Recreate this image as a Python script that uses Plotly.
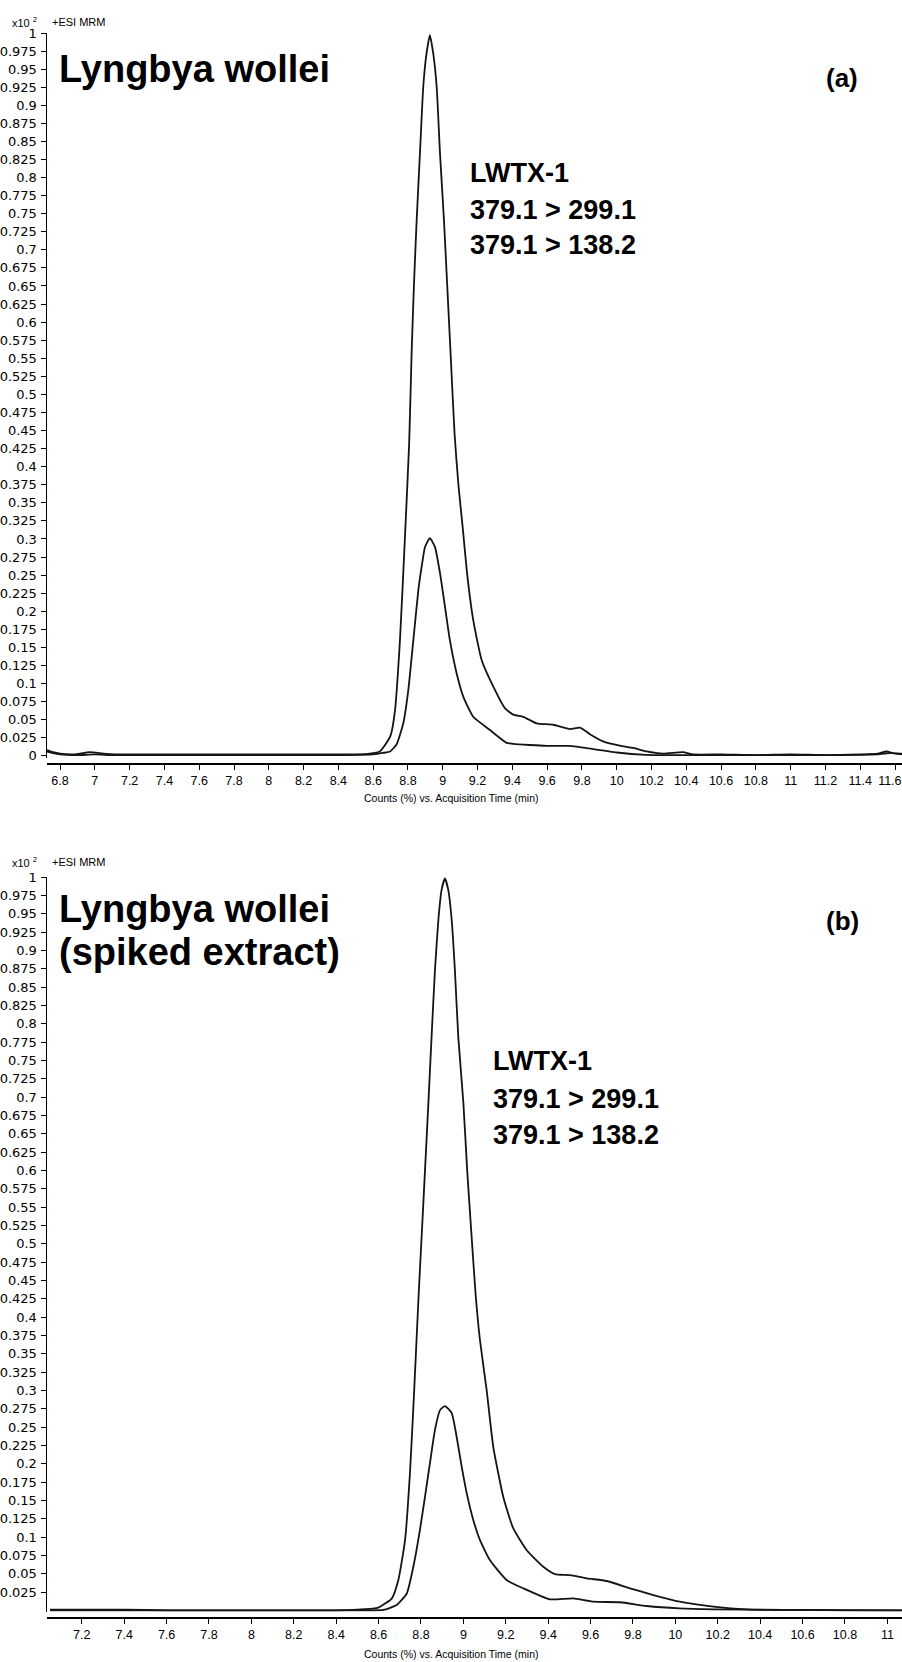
import plotly.graph_objects as go

# ---------------- data ----------------
# Panel (a): Lyngbya wollei
a_t1 = [6.725, 6.76, 6.8, 6.88, 6.97, 7.05, 7.12, 7.3, 7.47, 7.65, 7.8, 8.0, 8.2, 8.4, 8.5,
        8.58, 8.638, 8.677, 8.70, 8.725, 8.754, 8.782, 8.807, 8.821, 8.834, 8.85, 8.869,
        8.888, 8.907, 8.926, 8.945, 8.965, 8.984, 9.007, 9.026, 9.045, 9.068, 9.09, 9.115,
        9.14, 9.175, 9.223, 9.29, 9.357, 9.405, 9.463, 9.54, 9.635, 9.731, 9.789, 9.846, 9.922,
        10.018, 10.095, 10.172, 10.267, 10.38, 10.44, 10.6, 10.8, 11.0, 11.2, 11.4, 11.5,
        11.55, 11.6, 11.64]
a_v1 = [0.008, 0.005, 0.003, 0.002, 0.005, 0.003, 0.002, 0.002, 0.002, 0.002, 0.002, 0.002,
        0.002, 0.002, 0.002, 0.003, 0.006, 0.018, 0.028, 0.062, 0.160, 0.299, 0.433, 0.557,
        0.649, 0.741, 0.834, 0.926, 0.972, 0.997, 0.972, 0.926, 0.834, 0.741, 0.649, 0.557,
        0.445, 0.375, 0.315, 0.252, 0.188, 0.133, 0.096, 0.066, 0.057, 0.054, 0.045, 0.043, 0.037,
        0.039, 0.030, 0.020, 0.014, 0.011, 0.006, 0.003, 0.005, 0.002, 0.002, 0.001, 0.002,
        0.001, 0.002, 0.003, 0.006, 0.003, 0.003]

a_t2 = [6.725, 6.8, 6.9, 7.0, 7.1, 7.3, 7.6, 8.0, 8.4, 8.6, 8.656, 8.697, 8.735, 8.773, 8.802,
        8.831, 8.86, 8.879, 8.898, 8.926, 8.955, 8.984, 9.013, 9.041, 9.08, 9.118, 9.175,
        9.27, 9.367, 9.405, 9.5, 9.597, 9.731, 9.827, 10.0, 10.17, 10.4, 10.8, 11.2, 11.5,
        11.58, 11.64]
a_v2 = [0.006, 0.002, 0.001, 0.002, 0.001, 0.001, 0.001, 0.001, 0.001, 0.002, 0.004, 0.006,
        0.016, 0.045, 0.091, 0.160, 0.230, 0.262, 0.289, 0.301, 0.289, 0.253, 0.206, 0.160,
        0.114, 0.082, 0.054, 0.036, 0.018, 0.0166, 0.015, 0.0138, 0.0138, 0.0106, 0.0046,
        0.0014, 0.001, 0.001, 0.001, 0.002, 0.004, 0.002]

# Panel (b): Lyngbya wollei (spiked extract)
b_t1 = [7.05, 7.3, 7.4, 7.6, 8.0, 8.4, 8.5, 8.59, 8.607, 8.662, 8.693, 8.725, 8.748, 8.768,
        8.789, 8.803, 8.819, 8.835, 8.85, 8.866, 8.882, 8.897, 8.913, 8.929, 8.945, 8.96,
        8.976, 9.0, 9.018, 9.039, 9.058, 9.078, 9.11, 9.141, 9.188, 9.235, 9.299, 9.377,
        9.432, 9.503, 9.582, 9.676, 9.786, 9.896, 10.02, 10.18, 10.336, 10.6, 10.8, 11.0,
        11.07]
b_v1 = [0.001, 0.001, 0.001, 0.0, 0.0, 0.0, 0.001, 0.003, 0.005, 0.016, 0.041, 0.096, 0.187,
        0.300, 0.430, 0.509, 0.600, 0.692, 0.782, 0.873, 0.941, 0.982, 0.998, 0.982, 0.941,
        0.873, 0.782, 0.692, 0.600, 0.509, 0.430, 0.369, 0.300, 0.223, 0.155, 0.112, 0.082,
        0.0595, 0.0495, 0.048, 0.0436, 0.040, 0.030, 0.0209, 0.0118, 0.005, 0.0013, 0.0005,
        0.0, 0.0, 0.0]

b_t2 = [7.05, 7.4, 8.0, 8.5, 8.622, 8.685, 8.733, 8.764, 8.795, 8.819, 8.842, 8.866, 8.89,
        8.913, 8.945, 8.968, 8.992, 9.016, 9.047, 9.078, 9.125, 9.204, 9.283, 9.408, 9.518,
        9.613, 9.739, 9.865, 10.02, 10.18, 10.5, 11.07]
b_v2 = [0.0, 0.0, 0.0, 0.0, 0.0005, 0.0072, 0.023, 0.0595, 0.1095, 0.155, 0.200, 0.246,
        0.273, 0.2786, 0.269, 0.237, 0.196, 0.1595, 0.123, 0.096, 0.0686, 0.0413, 0.030,
        0.015, 0.0164, 0.0118, 0.011, 0.0059, 0.0027, 0.0014, 0.0005, 0.0]

# tick labels
a_xticks = [6.8, 7.0, 7.2, 7.4, 7.6, 7.8, 8.0, 8.2, 8.4, 8.6, 8.8, 9.0, 9.2, 9.4, 9.6, 9.8,
            10.0, 10.2, 10.4, 10.6, 10.8, 11.0, 11.2, 11.4, 11.6]
b_xticks = [7.2, 7.4, 7.6, 7.8, 8.0, 8.2, 8.4, 8.6, 8.8, 9.0, 9.2, 9.4, 9.6, 9.8, 10.0, 10.2,
            10.4, 10.6, 10.8, 11.0]
a_yticks = [round(i * 0.025, 3) for i in range(0, 41)]
b_yticks = [round(i * 0.025, 3) for i in range(1, 41)]

x_title = "Counts (%) vs. Acquisition Time (min)"
traces_label = ["379.1 > 299.1", "379.1 > 138.2"]

# ---------------- layout helpers ----------------
W, H = 902, 1662
def PX(x):
    return x / W
def PY(y):
    return 1 - y / H

line_style = dict(color="#141414", width=1.8, shape="spline", smoothing=0.5)

fig = go.Figure()
fig.add_trace(go.Scatter(x=a_t1, y=a_v1, mode="lines", line=line_style, name=traces_label[0],
                         xaxis="x", yaxis="y"))
fig.add_trace(go.Scatter(x=a_t2, y=a_v2, mode="lines", line=line_style, name=traces_label[1],
                         xaxis="x", yaxis="y"))
fig.add_trace(go.Scatter(x=b_t1, y=b_v1, mode="lines", line=line_style, name=traces_label[0],
                         xaxis="x2", yaxis="y2"))
fig.add_trace(go.Scatter(x=b_t2, y=b_v2, mode="lines", line=line_style, name=traces_label[1],
                         xaxis="x2", yaxis="y2"))

tickfont_y = dict(family="DejaVu Sans", size=13, color="black")
tickfont_x = dict(family="Liberation Sans", size=12.5, color="black")

def x_labels(ticks, last_pad):
    labels = [f"{t:g}" for t in ticks]
    if last_pad:
        # keep the right-most label inside the page, as in the reference
        labels[-1] = labels[-1] + "\u00a0\u00a0\u00a0"
    return labels

def xaxis_cfg(rng, ticks, pos, last_pad=False):
    return dict(domain=[PX(47), 1.0], range=rng, anchor="free", position=pos,
                tickvals=ticks, ticktext=x_labels(ticks, last_pad),
                showline=True, linecolor="black", linewidth=1.5,
                ticks="outside", ticklen=5, tickwidth=1, tickcolor="black",
                showgrid=False, zeroline=False, tickfont=tickfont_x, fixedrange=True,
                automargin=False, ticklabeloverflow="allow")

def yaxis_cfg(rng, ticks, dom, anchor):
    return dict(domain=dom, range=rng, anchor=anchor,
                tickvals=ticks, ticktext=[f"{t:g}" for t in ticks],
                showline=True, linecolor="black", linewidth=1.5,
                ticks="outside", ticklen=5, tickwidth=1, tickcolor="black",
                showgrid=False, zeroline=False, tickfont=tickfont_y, ticklabelstandoff=1,
                fixedrange=True, automargin=False, ticklabeloverflow="allow")

fig.update_layout(
    template="none",
    width=W, height=H, margin=dict(l=0, r=0, t=0, b=0, pad=0, autoexpand=False),
    paper_bgcolor="white", plot_bgcolor="white", showlegend=False,
    xaxis=xaxis_cfg([6.725, 11.64], a_xticks, PY(763), last_pad=True),
    yaxis=yaxis_cfg([-0.003, 1.0], a_yticks, [PY(758), PY(33)], "x"),
    xaxis2=xaxis_cfg([7.036, 11.069], b_xticks, PY(1617)),
    yaxis2=yaxis_cfg([-0.002, 1.0], b_yticks, [PY(1611.8), PY(877)], "x2"),
)

ann = []
def add_text(text, x, y, size, bold=False, xanchor="left", family="Liberation Sans"):
    ann.append(dict(text=f"<b>{text}</b>" if bold else text, x=PX(x), y=PY(y),
                    xref="paper", yref="paper", xanchor=xanchor, yanchor="middle",
                    showarrow=False, font=dict(family=family, size=size, color="black")))

for top, title_lines, tag, tag_y, lw_x, lw_ys in [
        (22, ["Lyngbya wollei"], "(a)", 78, 468, [173, 210, 245]),
        (862, ["Lyngbya wollei", "(spiked extract)"], "(b)", 921, 491, [1061, 1099, 1135])]:
    add_text("x10 <sup>2</sup>", 10, top, 11)
    add_text("+ESI MRM", 50, top, 11)
    if len(title_lines) == 1:
        add_text(title_lines[0], 57, 69, 38, bold=True)
    else:
        add_text(title_lines[0], 57, 909, 38, bold=True)
        add_text(title_lines[1], 57, 952, 38, bold=True)
    add_text(tag, 842, tag_y, 26, bold=True, xanchor="center")
    add_text("LWTX-1", lw_x, lw_ys[0], 27, bold=True)
    add_text(traces_label[0], lw_x, lw_ys[1], 27, bold=True)
    add_text(traces_label[1], lw_x, lw_ys[2], 27, bold=True)

add_text(x_title, 451, 798, 10.5, xanchor="center")
add_text(x_title, 451, 1654, 10.5, xanchor="center")

fig.update_layout(annotations=ann)
fig.write_html("out.html",
               config={"displayModeBar": False, "staticPlot": True},
               post_script="document.body.style.margin='0';document.body.style.padding='0';"
                           "document.body.style.overflow='hidden';")
